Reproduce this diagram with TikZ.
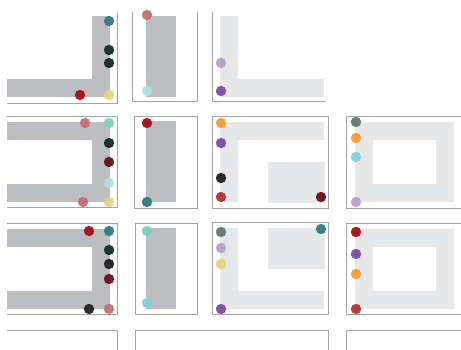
\documentclass[tikz,border=0pt]{standalone}
\usetikzlibrary{calc}
\definecolor{dgray}{HTML}{BCBDC0}
\definecolor{lgray}{HTML}{E6E7E8}
\definecolor{frame}{HTML}{A3A3A3}
\definecolor{cteal}{HTML}{2E7B80}
\definecolor{cdkgreen}{HTML}{0E2E27}
\definecolor{cred}{HTML}{A50F15}
\definecolor{cyellow}{HTML}{E9D67E}
\definecolor{cpink}{HTML}{C76F72}
\definecolor{clblue}{HTML}{B2DFE5}
\definecolor{clpurple}{HTML}{B8A1CD}
\definecolor{cpurple}{HTML}{7E4CA0}
\definecolor{cmint}{HTML}{7ECFB6}
\definecolor{cdkred}{HTML}{6A1018}
\definecolor{corange}{HTML}{F99B36}
\definecolor{cblack}{HTML}{231F20}
\definecolor{cred2}{HTML}{B1333A}
\definecolor{cggreen}{HTML}{5E7A72}
\definecolor{ccyan}{HTML}{80D2DD}
\begin{document}
\begin{tikzpicture}[x=1pt,y=-1pt,
  panel/.style={draw=frame,line width=0.9pt},
  darkshape/.style={fill=dgray},
  lightshape/.style={fill=lgray},
  dot/.style={fill=#1,fill opacity=0.95}]
\useasboundingbox (0,0) rectangle (461,350);
\newcommand{\pt}[3]{\fill[dot=#1] (#2,#3) circle (5.2);}
% ---------------- Row 1 ----------------
\draw[panel] (117,13) -- (117,103) -- (7,103);
\draw[panel] (132,12) -- (132,101) -- (197,101) -- (197,12);
\draw[panel] (212,12) -- (212,101) -- (326,101);
\fill[darkshape] (92,16) rectangle (110,97);
\fill[darkshape] (7,79) rectangle (110,97);
\fill[darkshape] (146,16) rectangle (176,97);
\fill[lightshape] (220,16) rectangle (238,97);
\fill[lightshape] (220,79) rectangle (324,97);
\pt{cteal}{109}{21}
\pt{cdkgreen}{109}{50}
\pt{cdkgreen}{109}{63}
\pt{cred}{80}{95}
\pt{cyellow}{109}{95}
\pt{cpink}{147}{15}
\pt{clblue}{147}{91}
\pt{clpurple}{221}{63}
\pt{cpurple}{221}{91}
% ---------------- Row 2 ----------------
\draw[panel] (7,116) -- (117,116) -- (117,207) -- (7,207);
\draw[panel] (134,116) rectangle (197,208);
\draw[panel] (212,116) rectangle (328,208);
\draw[panel] (461,116) -- (346,116) -- (346,208) -- (461,208);
\fill[darkshape] (7,122) rectangle (110,140);
\fill[darkshape] (92,122) rectangle (110,202);
\fill[darkshape] (7,184) rectangle (110,202);
\fill[darkshape] (146,121) rectangle (176,202);
\fill[lightshape] (220,122) rectangle (238,202);
\fill[lightshape] (220,122) rectangle (324,140);
\fill[lightshape] (268,162) rectangle (325,203);
\fill[lightshape,even odd rule] (355,122) rectangle (454,202) (373,140) rectangle (436,184);
\pt{cpink}{85}{123}
\pt{cmint}{109}{123}
\pt{cdkgreen}{109}{143}
\pt{cdkred}{109}{162}
\pt{clblue}{109}{183}
\pt{cpink}{83}{202}
\pt{cyellow}{109}{202}
\pt{cred}{147}{123}
\pt{cteal}{147}{202}
\pt{corange}{221}{123}
\pt{cpurple}{221}{143}
\pt{cblack}{221}{178}
\pt{cred2}{221}{197}
\pt{cdkred}{321}{197}
\pt{cggreen}{356}{122}
\pt{corange}{356}{138}
\pt{ccyan}{356}{157}
\pt{clpurple}{356}{202}
% ---------------- Row 3 ----------------
\draw[panel] (7,223) -- (117,223) -- (117,314) -- (7,314);
\draw[panel] (135,223) rectangle (197,314);
\draw[panel] (212,222) rectangle (328,314);
\draw[panel] (461,223) -- (346,223) -- (346,314) -- (461,314);
\fill[darkshape] (7,229) rectangle (110,247);
\fill[darkshape] (92,229) rectangle (110,309);
\fill[darkshape] (7,291) rectangle (110,309);
\fill[darkshape] (146,228) rectangle (176,309);
\fill[lightshape] (220,228) rectangle (238,309);
\fill[lightshape] (220,291) rectangle (324,309);
\fill[lightshape] (268,228) rectangle (325,269);
\fill[lightshape,even odd rule] (355,229) rectangle (454,309) (373,247) rectangle (436,291);
\pt{cred}{89}{231}
\pt{cteal}{109}{231}
\pt{cdkgreen}{109}{250}
\pt{cblack}{109}{264}
\pt{cdkred}{109}{279}
\pt{cblack}{89}{309}
\pt{cpink}{109}{309}
\pt{cmint}{147}{231}
\pt{ccyan}{147}{303}
\pt{cggreen}{221}{232}
\pt{clpurple}{221}{248}
\pt{cyellow}{221}{264}
\pt{cpurple}{221}{309}
\pt{cteal}{321}{229}
\pt{cred}{356}{232}
\pt{cpurple}{356}{254}
\pt{corange}{356}{274}
\pt{cred2}{356}{309}
% ---------------- Row 4 ----------------
\draw[panel] (7,330) -- (117,330) -- (117,350);
\draw[panel] (135,350) -- (135,330) -- (328,330) -- (328,350);
\draw[panel] (346,350) -- (346,330) -- (461,330);
\end{tikzpicture}
\end{document}
